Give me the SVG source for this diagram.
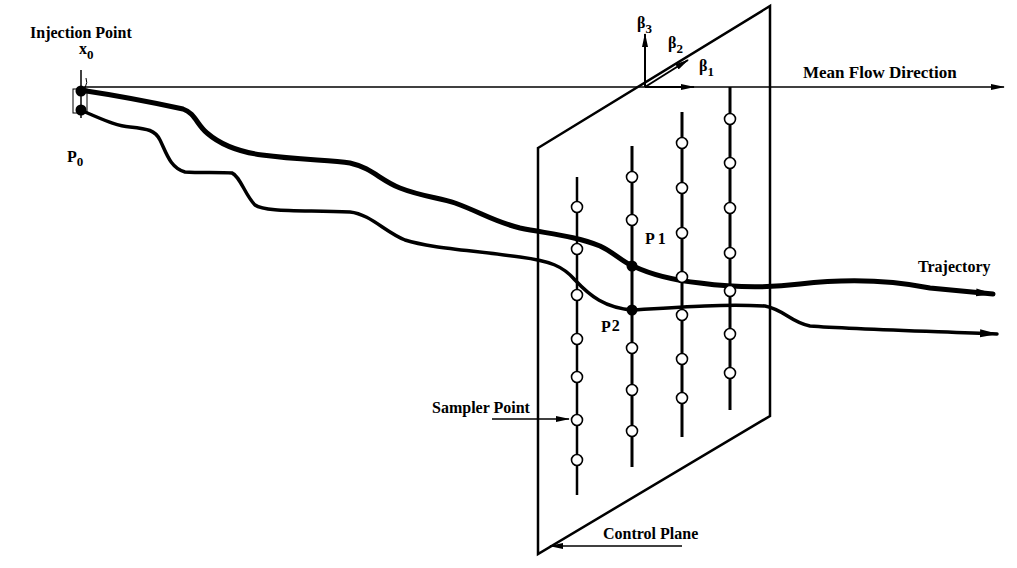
<svg xmlns="http://www.w3.org/2000/svg" width="1017" height="568" viewBox="0 0 1017 568">
<style>
text{font-family:"Liberation Serif",serif;font-weight:bold;font-size:16px;fill:#000}
.sub{font-size:13px}
.plane{fill:none;stroke:#000;stroke-width:2.5;stroke-linejoin:miter}
.col{fill:none;stroke:#000;stroke-width:3}
.smp{fill:#fff;stroke:#000;stroke-width:1.6}
.hit{fill:#000}
.traj1{fill:none;stroke:#000;stroke-width:5;stroke-linecap:round}
.traj2{fill:none;stroke:#000;stroke-width:3.5;stroke-linecap:round}
.thin{fill:none;stroke:#000;stroke-width:1.5}
</style>
<defs>
<marker id="ah" markerWidth="14" markerHeight="8" refX="13" refY="4" orient="auto" markerUnits="userSpaceOnUse">
<path d="M0,1 L14,4 L0,7 Z" fill="#000"/>
</marker>
<marker id="ahb" markerWidth="18" markerHeight="10" refX="17" refY="5" orient="auto" markerUnits="userSpaceOnUse">
<path d="M0,1 L18,5 L0,9 Z" fill="#000"/>
</marker>
</defs>

<g id="control-plane">
<path class="plane" d="M538,148 L770,6 L770,416 L538,554 Z"/>
</g>

<g id="sampler-columns">
<line class="col" x1="577" y1="177" x2="577" y2="495" style="stroke-width:2.5"/>
<line class="col" x1="632" y1="146" x2="632" y2="467"/>
<line class="col" x1="682" y1="112" x2="682" y2="437"/>
<line class="col" x1="730" y1="87" x2="730" y2="410"/>
</g>

<g id="connectors">
<line class="thin" x1="84" y1="87" x2="1004" y2="87" marker-end="url(#ah)"/>
<line class="thin" x1="645" y1="87" x2="694" y2="87" marker-end="url(#ah)" style="stroke-width:2"/>
<line class="thin" x1="645" y1="87" x2="688" y2="60" marker-end="url(#ah)" style="stroke-width:2"/>
<line class="thin" x1="645" y1="87" x2="645" y2="34" marker-end="url(#ah)" style="stroke-width:2"/>
<path class="traj1" d="M80,90 C120,96 160,104 183,109 C195,113 197,125 207,133 C222,146 240,152 262,155 C300,160 330,160 350,163 C372,168 380,180 400,188 C420,196 440,198 455,203 C480,212 495,222 520,228 C550,234 575,236 600,246 C615,253 622,262 633,266 C650,274 670,280 700,283 C730,287 760,289 800,284 C860,277 900,282 930,288 L993,294" marker-end="url(#ahb)"/>
<path class="traj2" d="M80,110 C100,118 115,126 130,127 C148,129 155,130 160,140 C166,152 170,168 185,172 C200,173 220,172 232,173 C240,176 245,195 255,205 C265,212 300,210 350,212 C370,214 385,232 405,240 C430,248 470,250 520,257 C550,261 563,266 575,280 C590,296 605,308 633,310 C680,307 720,304 765,306 C785,310 790,322 810,326 C850,329 920,331 997,334" marker-end="url(#ahb)"/>
<line class="thin" x1="492" y1="419" x2="569" y2="419" marker-end="url(#ah)"/>
<line class="thin" x1="682" y1="546" x2="550" y2="546" marker-end="url(#ah)"/>
</g>

<g id="sampler-points">
<circle class="smp" cx="577" cy="207" r="5.5"/>
<circle class="smp" cx="577" cy="249" r="5.5"/>
<circle class="smp" cx="577" cy="295" r="5.5"/>
<circle class="smp" cx="577" cy="339" r="5.5"/>
<circle class="smp" cx="577" cy="377" r="5.5"/>
<circle class="smp" cx="577" cy="420" r="5.5"/>
<circle class="smp" cx="577" cy="460" r="5.5"/>
<circle class="smp" cx="632" cy="177" r="5.5"/>
<circle class="smp" cx="632" cy="220" r="5.5"/>
<circle class="smp" cx="632" cy="348" r="5.5"/>
<circle class="smp" cx="632" cy="390" r="5.5"/>
<circle class="smp" cx="632" cy="431" r="5.5"/>
<circle class="smp" cx="682" cy="143" r="5.5"/>
<circle class="smp" cx="682" cy="188" r="5.5"/>
<circle class="smp" cx="682" cy="233" r="5.5"/>
<circle class="smp" cx="682" cy="277" r="5.5"/>
<circle class="smp" cx="682" cy="315" r="5.5"/>
<circle class="smp" cx="682" cy="359" r="5.5"/>
<circle class="smp" cx="682" cy="398" r="5.5"/>
<circle class="smp" cx="730" cy="119" r="5.5"/>
<circle class="smp" cx="730" cy="163" r="5.5"/>
<circle class="smp" cx="730" cy="208" r="5.5"/>
<circle class="smp" cx="730" cy="253" r="5.5"/>
<circle class="smp" cx="730" cy="291" r="5.5"/>
<circle class="smp" cx="730" cy="334" r="5.5"/>
<circle class="smp" cx="730" cy="373" r="5.5"/>
<circle class="hit" cx="632" cy="266" r="5.5"/>
<circle class="hit" cx="632" cy="310" r="5.5"/>
</g>

<g id="injection-point">
<rect x="73" y="89" width="14" height="24" fill="none" stroke="#000" stroke-width="1"/>
<line class="thin" x1="81" y1="70" x2="81" y2="118"/>
<path d="M85,88 Q88,82 86,78" fill="none" stroke="#000" stroke-width="1"/>
<circle class="hit" cx="81" cy="91" r="5.5"/>
<circle class="hit" cx="81" cy="110" r="5.5"/>
</g>

<g id="labels">
<text x="30" y="38">Injection Point</text>
<text x="79" y="54">x<tspan class="sub" dy="5">0</tspan></text>
<text x="67" y="162">P<tspan class="sub" dy="4">0</tspan></text>
<text x="637" y="28">β<tspan class="sub" dy="5">3</tspan></text>
<text x="668" y="48">β<tspan class="sub" dy="5">2</tspan></text>
<text x="699" y="71">β<tspan class="sub" dy="5">1</tspan></text>
<text x="803" y="78" style="font-size:17px">Mean Flow Direction</text>
<text x="918" y="272">Trajectory</text>
<text x="645" y="244">P<tspan dx="3">1</tspan></text>
<text x="601" y="332">P<tspan dx="1" dy="-1">2</tspan></text>
<text x="432" y="413">Sampler Point</text>
<text x="603" y="539">Control Plane</text>
</g>
</svg>
